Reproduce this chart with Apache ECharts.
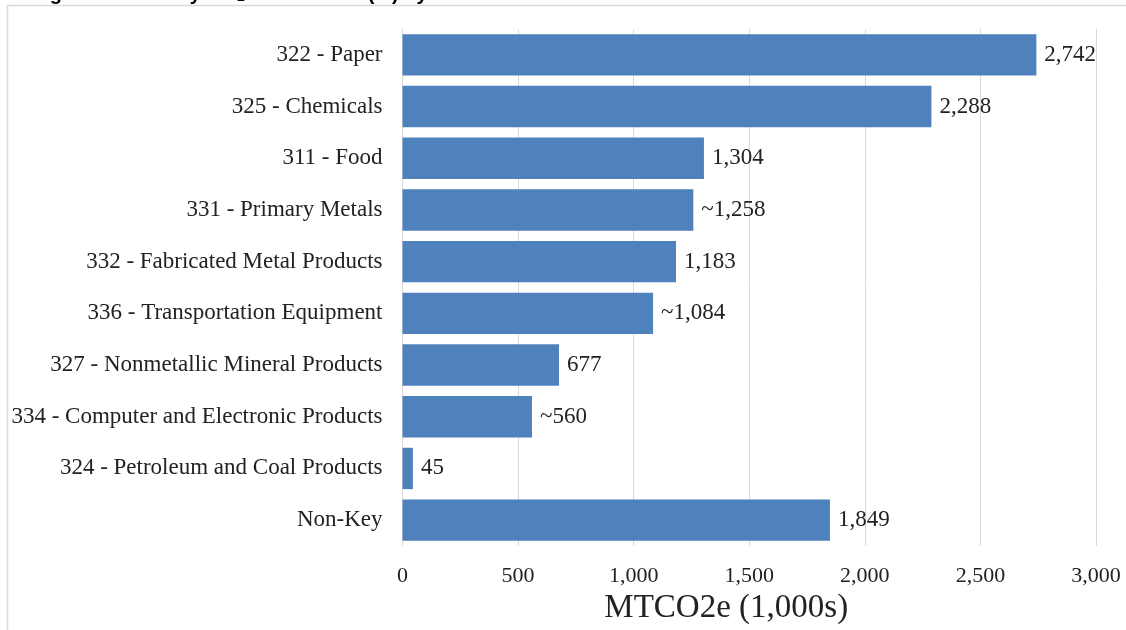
<!DOCTYPE html>
<html>
<head>
<meta charset="utf-8">
<title>Emissions by subsector</title>
<script src="https://cdn.jsdelivr.net/npm/echarts@6/dist/echarts.min.js"></script>
<style>
  html, body { margin: 0; padding: 0; background: #fff; }
  #chart { width: 1126px; height: 630px; }
</style>
</head>
<body>
<div id="chart"></div>
<script>
// 数据
var categories = [
  '322 - Paper',
  '325 - Chemicals',
  '311 - Food',
  '331 - Primary Metals',
  '332 - Fabricated Metal Products',
  '336 - Transportation Equipment',
  '327 - Nonmetallic Mineral Products',
  '334 - Computer and Electronic Products',
  '324 - Petroleum and Coal Products',
  'Non-Key'
];
var values = [2742, 2288, 1304, 1258, 1183, 1084, 677, 560, 45, 1849];
// 带 ~ 的是估计值
var valueLabels = ['2,742', '2,288', '1,304', '~1,258', '1,183', '~1,084', '677', '~560', '45', '1,849'];
var xTicks = [0, 500, 1000, 1500, 2000, 2500, 3000];

var serif = '"Liberation Serif", "Times New Roman", serif';

var chart = echarts.init(document.getElementById('chart'));

var option = {
  animation: false,
  backgroundColor: '#fff',
  // 外框和被裁掉的标题
  graphic: [
    {
      type: 'rect',
      shape: { x: 7.5, y: 5.5, width: 1200, height: 700 },
      style: { fill: 'none', stroke: '#d9d9d9', lineWidth: 1.5 }
    },
    {
      type: 'text',
      left: 32,
      top: -16,
      style: {
        text: 'Figure 3: Industry CO\u2082e Emissions (kt) by Subsector',
        font: 'bold 20px "Liberation Sans", Arial, sans-serif',
        fill: '#000'
      }
    }
  ],
  grid: {
    left: 402.5,
    right: 30,
    top: 29,
    bottom: 84,
    outerBoundsMode: 'none',
    containLabel: false
  },
  xAxis: {
    type: 'value',
    min: xTicks[0],
    max: xTicks[xTicks.length - 1],
    interval: 500,
    name: 'MTCO2e (1,000s)',
    nameLocation: 'middle',
    nameGap: 44,
    nameTextStyle: { fontFamily: serif, fontSize: 33, color: '#222', padding: [0, 46, 0, 0] },
    axisLine: { show: false },
    axisTick: { show: false },
    axisLabel: {
      margin: 19,
      fontFamily: serif,
      fontSize: 22,
      color: '#222',
      formatter: function (v) { return v.toLocaleString('en-US'); }
    },
    splitLine: { lineStyle: { color: '#d9d9d9', width: 1 } }
  },
  yAxis: {
    type: 'category',
    data: categories,
    inverse: true,
    axisLine: { show: false },
    axisTick: { show: false },
    axisLabel: {
      margin: 20,
      fontFamily: serif,
      fontSize: 23,
      color: '#222'
    }
  },
  series: [{
    type: 'bar',
    data: values,
    barCategoryGap: '20%',
    itemStyle: { color: '#4f81bd' },
    label: {
      show: true,
      position: 'right',
      distance: 8,
      fontFamily: serif,
      fontSize: 23,
      color: '#222',
      formatter: function (p) { return valueLabels[p.dataIndex]; }
    }
  }]
};

chart.setOption(option);
</script>
</body>
</html>
